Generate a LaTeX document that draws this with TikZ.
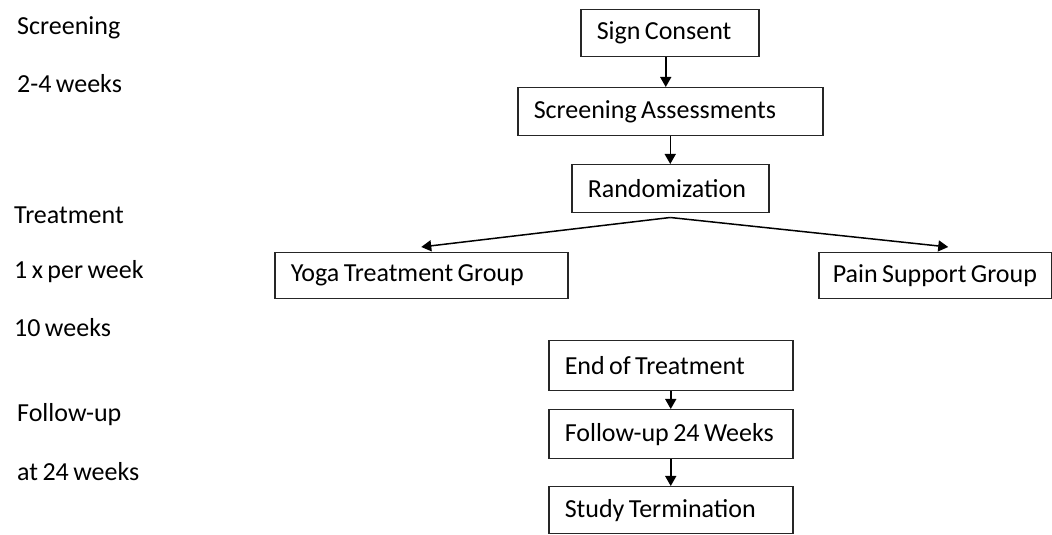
\documentclass[tikz,border=0pt]{standalone}
\usepackage{fontspec}
\setmainfont{Carlito}
\usetikzlibrary{arrows.meta}
\newcommand{\diagfont}{\fontsize{26}{29}\selectfont\spaceskip=0.17em plus 0.02em minus 0.02em\relax}
\begin{document}
\begin{tikzpicture}[x=1pt,y=1pt,
  box/.style={draw=black!85, line width=1.5pt, anchor=north west, inner xsep=16pt, inner ysep=0pt, align=left, font=\diagfont, execute at begin node={\diagfont}},
  lab/.style={anchor=west, inner sep=0pt, font=\diagfont},
  arr/.style={draw=black, line width=1.5pt, -{Triangle[width=11pt,length=10pt]}}]
\useasboundingbox (0,0) rectangle (1052,535);
% left labels
\node[lab] (l1) at (17,507) {Screening};
\node[lab] (l2) at (17,451) {2-4 weeks};
\node[lab] (l3) at (14,320) {Treatment};
\node[lab] (l4) at (14,263) {1 x per week};
\node[lab] (l5) at (14,207) {10 weeks};
\node[lab] (l6) at (17,120) {Follow-up};
\node[lab] (l7) at (17,63) {at 24 weeks};
% boxes
\node[box, text width=146pt, minimum height=47pt] (sign) at (580,526) {Sign Consent};
\node[box, text width=273pt, minimum height=48pt] (screen) at (517,448) {Screening Assessments};
\node[box, text width=165pt, minimum height=48pt] (rand) at (571,371) {Randomization};
\node[box, text width=261pt, minimum height=46pt] (yoga) at (274,283) {Yoga Treatment Group};
\node[box, inner xsep=14pt, text width=205pt, minimum height=46pt] (pain) at (818,283) {Pain Support Group};
\node[box, text width=212pt, minimum height=50pt] (eot) at (548,195) {End of Treatment};
\node[box, text width=212pt, minimum height=49pt] (fu) at (548,126) {Follow-up 24 Weeks};
\node[box, text width=212pt, minimum height=47pt] (st) at (548,49) {Study Termination};
% arrows
\coordinate (ptip) at ([xshift=13pt,yshift=5pt]pain.north);
\coordinate (ytip) at ([yshift=5pt]yoga.north);
\draw[arr] ([xshift=-4pt]sign.south) -- ([xshift=-4pt]sign.south |- screen.north);
\draw[arr] (screen.south) -- (screen.south |- rand.north);
\draw[arr] ([yshift=-4pt]rand.south) -- (ytip);
\draw[arr] ([yshift=-4pt]rand.south) -- (ptip);
\draw[arr] (eot.south) -- (eot.south |- fu.north);
\draw[arr] (fu.south) -- (fu.south |- st.north);
\end{tikzpicture}
\end{document}
